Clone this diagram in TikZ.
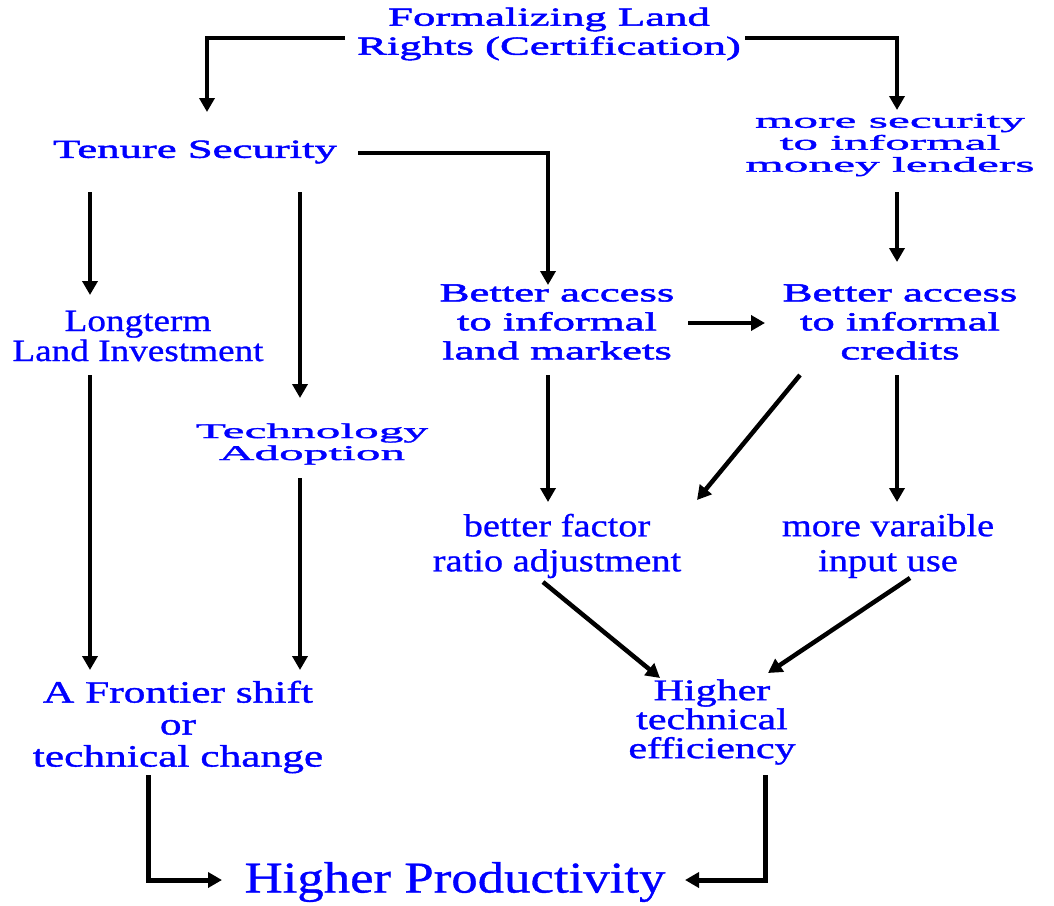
\documentclass[tikz,border=0pt]{standalone}
\usepackage{fontspec}
\newfontfamily\fa[FakeStretch=1.72,FakeBold=2]{Liberation Serif}
\newfontfamily\fb[FakeStretch=2.35,FakeBold=1.8]{Liberation Serif}
\newfontfamily\fc[FakeStretch=1.2,FakeBold=0.8]{Liberation Serif}
\newfontfamily\fd[FakeStretch=1.4,FakeBold=1.2]{Liberation Serif}
\usetikzlibrary{arrows.meta}
\tikzset{
  lbl/.style={text=blue, align=center, inner sep=0pt},
  wA/.style={lbl, font=\fa\fontsize{26}{29}\selectfont},
  wB/.style={lbl, font=\fb\fontsize{21}{22}\selectfont},
  cC/.style={lbl, font=\fc\fontsize{32}{35}\selectfont},
  wD/.style={lbl, font=\fd\fontsize{31}{32}\selectfont},
  ln/.style={line width=4.5pt, line join=miter},
  arr/.style={ln, -{Triangle[length=14pt,width=15pt]}},
}
\begin{document}
\begin{tikzpicture}[x=1pt,y=-1pt]
\useasboundingbox[fill=white] (0,0) rectangle (1054,905);
\node[wA] (F) at (549,34) {Formalizing Land\\Rights (Certification)};
\node[wA] (T) at (195,152) {Tenure Security};
\node[wB] (M) at (890,145) {more security\\to informal\\money lenders};
\node[wA] (BL) at (557,322) {Better access\\to informal\\land markets};
\node[wA] (BC) at (900,322) {Better access\\to informal\\credits};
\node[cC, font=\fc\fontsize{31}{30}\selectfont] (L) at (138,336) {Longterm\\Land Investment};
\node[wB] (TA) at (312,444) {Technology\\Adoption};
\node[cC] (BF) at (557,546) {better factor\\ratio adjustment};
\node[cC] (MV) at (888,546) {more varaible\\input use};
\node[wD] (HF) at (178,727) {A Frontier shift\\or\\technical change};
\node[wD, font=\fd\fontsize{30}{29}\selectfont] (HT) at (712,722) {Higher\\technical\\efficiency};
\node[cC, font=\fc\fontsize{44}{50}\selectfont] (HP) at (455,882) {Higher Productivity};

\draw[arr] ([xshift=-204pt,yshift=-4pt]F.center) -| ([xshift=12pt,yshift=40pt]T.center);
\draw[arr] ([xshift=196pt,yshift=-4pt]F.center) -| ([xshift=7pt,yshift=35pt]M.center);
\draw[arr] ([xshift=163pt,yshift=-1pt]T.center) -| ([xshift=-9pt,yshift=37pt]BL.center);
\draw[arr] ([xshift=-105pt,yshift=-40pt]T.center) -- ([xshift=-48pt,yshift=41pt]L.center);
\draw[arr] ([xshift=105pt,yshift=-40pt]T.center) -- ([xshift=-12pt,yshift=46pt]TA.center);
\draw[arr] ([xshift=7pt,yshift=-47pt]M.center) -- ([xshift=-3pt,yshift=60pt]BC.center);
\draw[arr] ([xshift=131pt,yshift=-1pt]BL.center) -- ([xshift=-135pt,yshift=-1pt]BC.center);
\draw[arr] ([xshift=-48pt,yshift=-39pt]L.center) -- ([xshift=-88pt,yshift=57pt]HF.center);
\draw[arr] ([xshift=-12pt,yshift=-34pt]TA.center) -- ([xshift=122pt,yshift=57pt]HF.center);
\draw[arr] ([xshift=-9pt,yshift=-53pt]BL.center) -- ([xshift=-9pt,yshift=44pt]BF.center);
\draw[arr] ([xshift=-100pt,yshift=-53pt]BC.center) -- ([xshift=140pt,yshift=46pt]BF.center);
\draw[arr] ([xshift=-3pt,yshift=-53pt]BC.center) -- ([xshift=9pt,yshift=44pt]MV.center);
\draw[arr] ([xshift=-14pt,yshift=-36pt]BF.center) -- ([xshift=-52pt,yshift=44pt]HT.center);
\draw[arr] ([xshift=22pt,yshift=-32pt]MV.center) -- ([xshift=56pt,yshift=49pt]HT.center);
\draw[arr, line width=5pt] ([xshift=-30pt,yshift=-48pt]HF.center) |- ([xshift=-233pt,yshift=2pt]HP.center);
\draw[arr, line width=5pt] ([xshift=53pt,yshift=-53pt]HT.center) |- ([xshift=230pt,yshift=2pt]HP.center);
\end{tikzpicture}
\end{document}
